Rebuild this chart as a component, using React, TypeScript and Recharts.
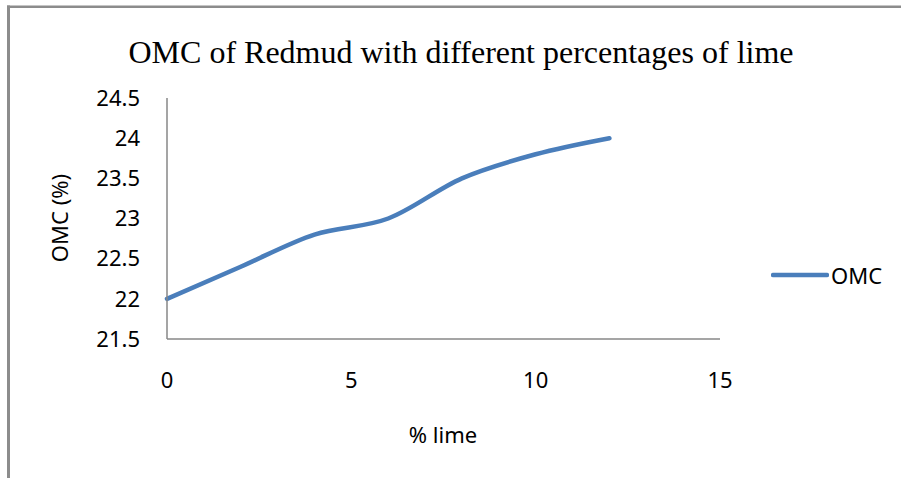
import { CartesianGrid, Legend, Line, LineChart, XAxis, YAxis } from "recharts"

// % lime added vs optimum moisture content
const limePct = [0, 2, 4, 6, 8, 10, 12]
const omcValues = [22.0, 22.4, 22.8, 23.0, 23.5, 23.8, 24.0]
const xTicks = [0, 5, 10, 15]
const yTicks = [21.5, 22, 22.5, 23, 23.5, 24, 24.5]

const data = limePct.map((x, i) => ({ lime: x, omc: omcValues[i] }))

const SANS = "'Noto Sans', 'Open Sans', sans-serif"
const BLUE = "#4a7ebb"
const AXIS = "#878787"

function LegendBox() {
  return (
    <div style={{ display: "flex", alignItems: "center", fontFamily: SANS, fontSize: 22, color: "#000" }}>
      <svg width={58} height={10}>
        <line x1={2} y1={5} x2={56} y2={5} stroke={BLUE} strokeWidth={4.5} strokeLinecap="round" />
      </svg>
      <span style={{ marginLeft: 2 }}>OMC</span>
    </div>
  )
}

export default function App() {
  return (
    <div style={{ position: "absolute", left: 0, top: 0, width: 901, height: 478, background: "#fff" }}>
      <LineChart width={901} height={478} data={data} margin={{ top: 98, right: 181, left: 107, bottom: 99 }}>
        <CartesianGrid stroke="none" />
        <XAxis
          dataKey="lime"
          type="number"
          domain={[0, 15]}
          ticks={xTicks}
          height={40}
          tickLine={false}
          tickSize={0}
          tickMargin={33}
          axisLine={{ stroke: AXIS, strokeWidth: 1.5 }}
          tick={{ fill: "#000", fontSize: 22, fontFamily: SANS }}
        />
        <YAxis
          type="number"
          domain={[21.5, 24.5]}
          ticks={yTicks}
          width={60}
          tickLine={false}
          tickSize={0}
          tickMargin={27}
          axisLine={{ stroke: AXIS, strokeWidth: 1.5 }}
          tick={{ fill: "#000", fontSize: 22, fontFamily: SANS }}
        />
        <Legend
          layout="horizontal"
          verticalAlign="middle"
          align="center"
          content={() => <LegendBox />}
          wrapperStyle={{ position: "absolute", left: 771, top: 260, width: 130 }}
        />
        <Line
          type="monotone"
          dataKey="omc"
          name="OMC"
          stroke={BLUE}
          strokeWidth={4.5}
          strokeLinecap="round"
          dot={false}
          activeDot={false}
          isAnimationActive={false}
        />
      </LineChart>
      <svg width={901} height={478} style={{ position: "absolute", left: 0, top: 0, pointerEvents: "none" }}>
        <line x1={8.5} y1={5.5} x2={8.5} y2={478} stroke="#8c8c8c" strokeWidth={3} />
        <line x1={7} y1={6.8} x2={901} y2={6.8} stroke="#8c8c8c" strokeWidth={2.5} />
        <text x={461} y={63} textAnchor="middle" fontFamily="'Liberation Serif', 'Times New Roman', serif" fontSize={32} fill="#000">
          OMC of Redmud with different percentages of lime
        </text>
        <text x={68} y={218} textAnchor="middle" transform="rotate(-90 68 218)" fontFamily={SANS} fontSize={22} fill="#000">
          OMC (%)
        </text>
        <text x={443} y={443} textAnchor="middle" fontFamily={SANS} fontSize={22} fill="#000">
          % lime
        </text>
      </svg>
    </div>
  )
}
